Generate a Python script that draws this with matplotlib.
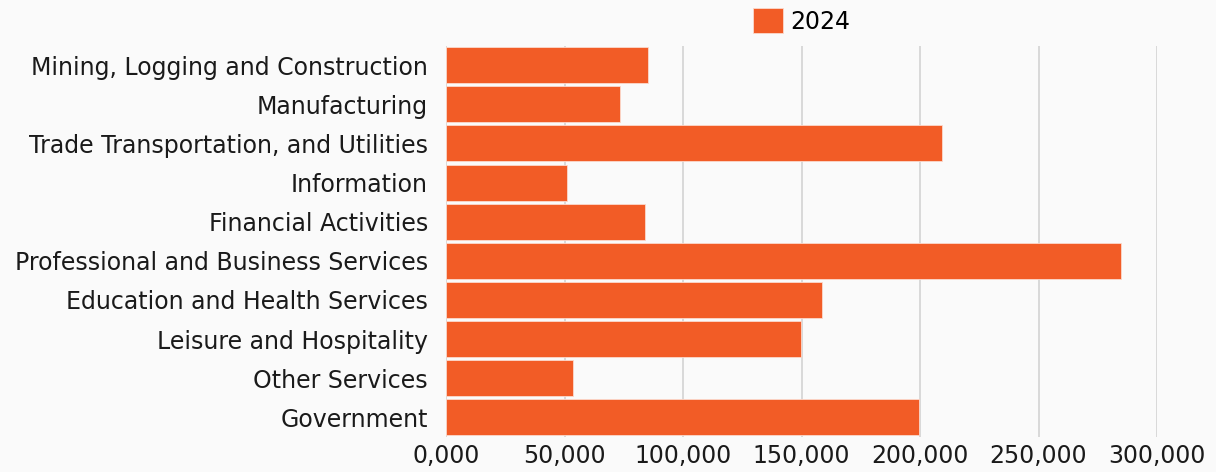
import matplotlib
matplotlib.use("Agg")
import matplotlib.pyplot as plt
from matplotlib.ticker import FuncFormatter, MultipleLocator

# Employment by industry sector
sectors = [
    "Mining, Logging and Construction",
    "Manufacturing",
    "Trade Transportation, and Utilities",
    "Information",
    "Financial Activities",
    "Professional and Business Services",
    "Education and Health Services",
    "Leisure and Hospitality",
    "Other Services",
    "Government",
]
jobs_2024 = [85100, 73400, 209300, 51000, 83800, 284800, 158700, 149600, 53400, 199500]
series_label = "2024"

BAR_COLOR = "#F25C26"
BG = "#FAFAFA"
FS = 17

plt.rcParams["font.family"] = ["DejaVu Sans"]

fig = plt.figure(figsize=(12.16, 4.72), dpi=100, facecolor=BG)
ax = fig.add_axes([0.3668, 0.0742, 0.5847, 0.8294], facecolor=BG)

positions = list(range(len(sectors)))
ax.barh(positions, jobs_2024, height=0.92, color=BAR_COLOR,
        edgecolor="#FBD9CC", linewidth=0.6, label=series_label, zorder=3)

ax.set_ylim(len(sectors) - 0.5, -0.5)
ax.set_yticks(positions)
ax.set_yticklabels(sectors)
ax.set_xlim(0, 300000)
ax.xaxis.set_major_locator(MultipleLocator(50000))
ax.xaxis.set_major_formatter(FuncFormatter(lambda v, _: "0,000" if v == 0 else f"{int(v):,}"))

ax.grid(axis="x", color="#CFCFCF", linewidth=1.1, zorder=0)
ax.set_axisbelow(True)
for s in ax.spines.values():
    s.set_visible(False)

ax.tick_params(axis="y", length=0, pad=13, labelsize=FS, labelcolor="#1a1a1a")
ax.tick_params(axis="x", length=0, pad=5, labelsize=FS, labelcolor="#1a1a1a")

ax.legend(loc="lower center", bbox_to_anchor=(0.5, 1.0), frameon=False,
          fontsize=FS, handlelength=1.25, handleheight=1.25, handletextpad=0.3,
          borderaxespad=0.1)

fig.savefig("out.png", dpi=100, facecolor=BG)
